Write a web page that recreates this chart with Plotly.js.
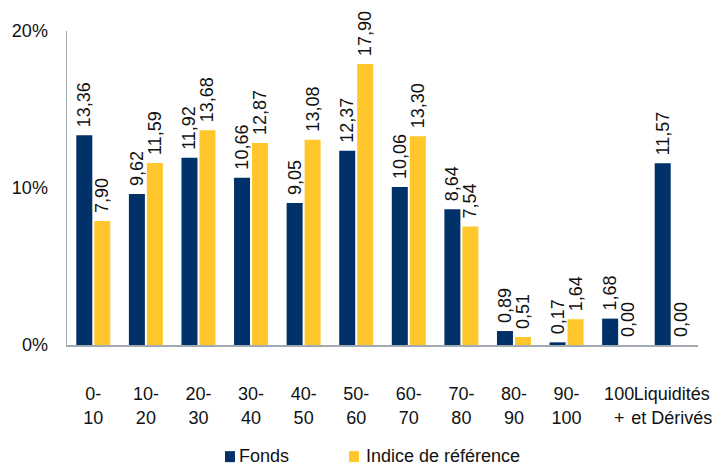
<!DOCTYPE html>
<html>
<head>
<meta charset="utf-8">
<script src="https://cdn.plot.ly/plotly-3.0.1.min.js"></script>
<style>html,body{margin:0;padding:0;background:#fff;}#chart{width:714px;height:468px;}</style>
</head>
<body>
<div id="chart"></div>
<script>
const categories = ["0-<br>10", "10-<br>20", "20-<br>30", "30-<br>40", "40-<br>50", "50-<br>60", "60-<br>70", "70-<br>80", "80-<br>90", "90-<br>100", "100<br>+", "Liquidités<br>et Dérivés"];
const fonds = [13.36, 9.62, 11.92, 10.66, 9.05, 12.37, 10.06, 8.64, 0.89, 0.17, 1.68, 11.57];
const indice = [7.90, 11.59, 13.68, 12.87, 13.08, 17.90, 13.30, 7.54, 0.51, 1.64, 0.00, 0.00];
const yTickVals = [0, 10, 20];
const yTickText = ["0%", "10%", "20%"];
const seriesNames = ["Fonds", "Indice de référence"];

const NAVY = "#003169";
const YELLOW = "#FFC72C";
const FONT = "Liberation Sans, Arial, sans-serif";
const FS = 18;

function barTrace(vals, name, color) {
  return {
    type: "bar",
    x: categories,
    y: vals,
    name: name,
    marker: {color: color},
    texttemplate: "\u00a0%{y:.2f}",
    textposition: "outside",
    textangle: -90,
    constraintext: "none",
    cliponaxis: false,
    textfont: {family: FONT, size: FS, color: "#111"},
    hoverinfo: "skip"
  };
}

const data = [barTrace(fonds, seriesNames[0], NAVY), barTrace(indice, seriesNames[1], YELLOW)];

const layout = {
  width: 714, height: 468,
  margin: {l: 67, r: 16, t: 31, b: 123},
  paper_bgcolor: "#fff", plot_bgcolor: "#fff",
  separators: ", ",
  font: {family: FONT, size: FS, color: "#111"},
  barmode: "group",
  bargap: 0.316,
  bargroupgap: 0.11,
  showlegend: false,
  xaxis: {
    type: "category",
    showline: true, linecolor: "#A3AAB2", linewidth: 1.5,
    showgrid: false, zeroline: false, ticks: "",
    tickangle: 0,
    ticklabelstandoff: 32,
    tickfont: {family: FONT, size: FS, color: "#111"},
    fixedrange: true
  },
  yaxis: {
    range: [0, 20],
    showline: true, linecolor: "#A3AAB2", linewidth: 1.5,
    showgrid: false, zeroline: false, ticks: "",
    tickvals: yTickVals, ticktext: yTickText,
    ticklabelstandoff: 14,
    tickfont: {family: FONT, size: FS, color: "#111"},
    fixedrange: true
  },
  shapes: [
    {type: "rect", xref: "paper", yref: "paper", x0: 0.2504, x1: 0.2662, y0: -0.338, y1: -0.373, fillcolor: NAVY, line: {width: 0}},
    {type: "rect", xref: "paper", yref: "paper", x0: 0.4469, x1: 0.4627, y0: -0.338, y1: -0.373, fillcolor: YELLOW, line: {width: 0}}
  ],
  annotations: [
    {xref: "paper", yref: "paper", x: 0.271, y: -0.352, xanchor: "left", yanchor: "middle", borderpad: 0, text: seriesNames[0], showarrow: false, font: {family: FONT, size: FS, color: "#111"}},
    {xref: "paper", yref: "paper", x: 0.4723, y: -0.352, xanchor: "left", yanchor: "middle", borderpad: 0, text: seriesNames[1], showarrow: false, font: {family: FONT, size: FS, color: "#111"}}
  ]
};

Plotly.newPlot("chart", data, layout, {displayModeBar: false, staticPlot: true});
</script>
</body>
</html>
